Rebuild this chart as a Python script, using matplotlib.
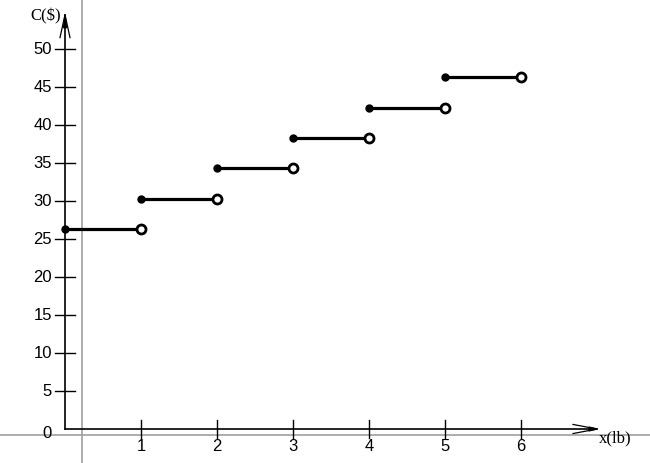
import numpy as np
import matplotlib.pyplot as plt

# step function data: cost C($) per weight bracket x(lb)
x_starts = [0, 1, 2, 3, 4, 5]
costs = [26.3, 30.3, 34.3, 38.3, 42.3, 46.3]

y_ticks = [5, 10, 15, 20, 25, 30, 35, 40, 45, 50]
x_ticks = [1, 2, 3, 4, 5, 6]

fig = plt.figure(figsize=(6.5, 4.63), dpi=100)
ax = fig.add_axes([0, 0, 1, 1])
ax.set_xlim(-65 / 76, 585 / 76)
ax.set_ylim(-34 / 7.6, 429 / 7.6)
ax.axis('off')

# light gray reference lines
ax.axvline(17 / 76, color='#a0a0a0', lw=1.2)
ax.axhline(-6 / 7.6, color='#a0a0a0', lw=1.2)

# axes with arrows
ax.plot([0, 0], [0, 54.5], color='black', lw=1.2)
ax.plot([0, 532 / 76], [0, 0], color='black', lw=1.2)
ax.plot([-5 / 76, 0, 5 / 76], [51.5, 54.5, 51.5], color='black', lw=0.9)
ax.plot([508 / 76, 532 / 76, 508 / 76], [0.6, 0, -0.6], color='black', lw=0.9)
ax.fill([-1.5 / 76, 0, 1.5 / 76], [52.8, 54.5, 52.8], color='black')
ax.fill([524 / 76, 532 / 76, 524 / 76], [0.25, 0, -0.25], color='black')

# tick marks and labels
for t in y_ticks:
    ax.plot([-10 / 76, 10 / 76], [t, t], color='black', lw=1)
    ax.text(-13 / 76, t, str(t), ha='right', va='center', fontsize=12,
            family='Liberation Sans')
ax.text(-13 / 76, -0.6, '0', ha='right', va='center', fontsize=12,
        family='Liberation Sans')
for t in x_ticks:
    ax.plot([t, t], [1.2, -1.2], color='black', lw=1)
    ax.text(t, -1.3, str(t), ha='center', va='top', fontsize=12,
            family='Liberation Sans')

ax.text(-35 / 76, 54.3, 'C($)', ha='left', va='center', fontsize=12,
        family='Liberation Serif')
ax.text(534 / 76, -1.2, 'x(lb)', ha='left', va='center', fontsize=12,
        family='Liberation Serif')

# steps
for xs, c in zip(x_starts, costs):
    ax.plot([xs, xs + 1], [c, c], color='black', lw=2.3, solid_capstyle='butt')
    ax.plot(xs, c, 'o', color='black', ms=5)
    ax.plot(xs + 1, c, 'o', mfc='white', mec='black', mew=2, ms=6.5)

fig.savefig('out.png', dpi=100)
